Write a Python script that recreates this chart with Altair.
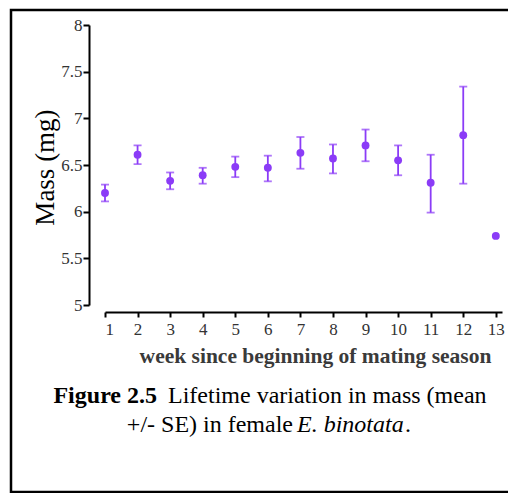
import altair as alt
import pandas as pd

weeks = [1, 2, 3, 4, 5, 6, 7, 8, 9, 10, 11, 12, 13]
mean_mass = [6.20, 6.61, 6.33, 6.39, 6.48, 6.47, 6.63, 6.57, 6.71, 6.55, 6.31, 6.82, 5.74]
upper_se = [6.29, 6.71, 6.42, 6.47, 6.59, 6.60, 6.80, 6.72, 6.88, 6.71, 6.61, 7.34, None]
lower_se = [6.11, 6.51, 6.24, 6.30, 6.37, 6.325, 6.46, 6.41, 6.54, 6.39, 5.99, 6.30, None]
y_ticks = [5, 5.5, 6, 6.5, 7, 7.5, 8]

x_title = "week since beginning of mating season"
y_title = "Mass (mg)"
cap_bold = "Figure 2.5"
cap_line1 = "Lifetime variation in mass (mean"
cap_line2a = "+/- SE) in female"
cap_italic = "E. binotata"
cap_end = "."

FONT = "Liberation Serif"
PURPLE = "#8b3cf7"
W, H = 397, 280
PAD = {"left": 97, "top": 17, "right": 6, "bottom": 190}

df = pd.DataFrame({"week": weeks, "mass": mean_mass, "hi": upper_se, "lo": lower_se})
err = df.dropna()

xs = alt.Scale(domain=[1, 13.19], nice=False, zero=False)
ys = alt.Scale(domain=[5, 8], nice=False, zero=False)

x_axis = alt.Axis(values=weeks, format="d", title=x_title, offset=7,
                  titleX=210, titleY=50, titleBaseline="alphabetic",
                  titleAnchor="start", titleAlign="center",
                  titleFont=FONT, titleFontSize=21.5, titleFontWeight="bold",
                  titleColor="#3a3a3a", labelOverlap=False,
                  labelFont=FONT, labelFontSize=17, labelColor="#333333",
                  tickSize=5, labelPadding=4, tickWidth=2, tickColor="black",
                  domainColor="black", domainWidth=2, grid=False)
y_axis = alt.Axis(values=y_ticks, format="~g", title=y_title, offset=16,
                  titleX=-44, titleY=142, titleAngle=-90, titleAlign="center",
                  titleBaseline="middle", titleAnchor="start",
                  titleFont=FONT, titleFontSize=27, titleFontWeight="normal",
                  titleColor="black", labelOverlap=False,
                  labelFont=FONT, labelFontSize=17, labelColor="#333333",
                  tickSize=6, labelPadding=1, tickWidth=2, tickColor="black",
                  domainColor="black", domainWidth=2, grid=False)


def X():
    return alt.X("week:Q", scale=xs, axis=x_axis)


def Y(field):
    return alt.Y(field, type="quantitative", scale=ys, axis=y_axis)


points = alt.Chart(df).mark_circle(size=62, opacity=1, color=PURPLE).encode(x=X(), y=Y("mass"))
bars = alt.Chart(err).mark_rule(color=PURPLE, strokeWidth=1.8).encode(x=X(), y=Y("lo"), y2="hi:Q")
cap_hi = alt.Chart(err).mark_tick(color=PURPLE, orient="horizontal", size=8, thickness=1.8).encode(
    x=X(), y=Y("hi"))
cap_lo = alt.Chart(err).mark_tick(color=PURPLE, orient="horizontal", size=8, thickness=1.8).encode(
    x=X(), y=Y("lo"))

one = pd.DataFrame({"k": [0]})
border = alt.Chart(one).mark_rect(fillOpacity=0, stroke="black", strokeWidth=2.5).encode(
    x=alt.value(-94), x2=alt.value(W + 20), y=alt.value(-15),
    y2=alt.value(H + PAD["bottom"] - 3))


def txt(s, x, y, align, weight="normal", style="normal"):
    return alt.Chart(one).mark_text(font=FONT, fontSize=24, align=align, baseline="alphabetic",
                                    fontWeight=weight, fontStyle=style, color="black").encode(
        x=alt.value(x), y=alt.value(y), text=alt.value(s))


captions = [
    txt(cap_bold, 52, 378, "right", weight="bold"),
    txt(cap_line1, 63, 378, "left"),
    txt(cap_line2a, 188, 407, "right"),
    txt(cap_italic, 192, 407, "left", style="italic"),
    txt(cap_end, 300, 407, "left"),
]

chart = alt.layer(points, bars, cap_hi, cap_lo, border, *captions).properties(
    width=W, height=H, autosize=alt.AutoSizeParams(type="none"), padding=PAD
).configure_view(strokeWidth=0).configure_axis(
    labelFont=FONT, titleFont=FONT, labelFontSize=17)

chart.save("out.html", embed_options={"renderer": "svg", "actions": False})
